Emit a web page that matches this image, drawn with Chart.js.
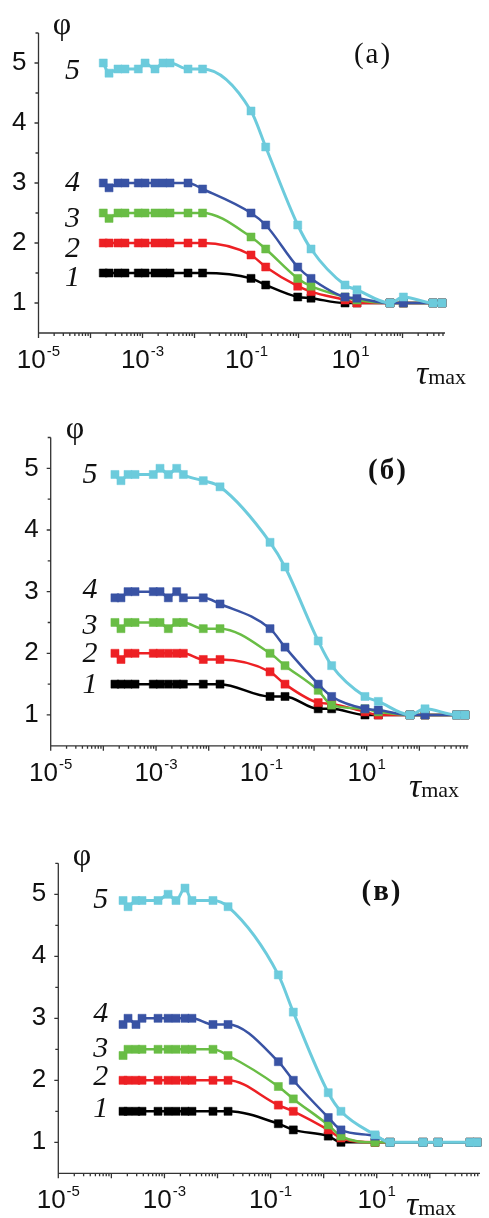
<!DOCTYPE html>
<html>
<head>
<meta charset="utf-8">
<script src="https://cdn.jsdelivr.net/npm/chart.js@4.4.1/dist/chart.umd.min.js"></script>
<style>
  html, body { margin: 0; padding: 0; background: #fff; }
  body { width: 489px; height: 1218px; position: relative; overflow: hidden; }
  canvas { position: absolute; left: 0; }
</style>
</head>
<body>
<canvas id="chartA" width="489" height="400" style="top:0px"></canvas>
<canvas id="chartB" width="489" height="405" style="top:400px"></canvas>
<canvas id="chartC" width="489" height="413" style="top:805px"></canvas>
<script>
// curves 5,4,3,2,1 (top to bottom)
const curveNames = ['5', '4', '3', '2', '1'];
const curveColors = ['#6ccbdc', '#3953a4', '#69bd45', '#ed2024', '#000000'];
const yTicks = [1, 2, 3, 4, 5];
const xLabelExps = [-5, -3, -1, 1];

// panel (а)
const tauA = [1.76e-4, 2.27e-4, 3.38e-4, 4.6e-4, 8.3e-4, 1.12e-3, 1.74e-3, 2.48e-3, 3.38e-3, 7.5e-3, 0.0143,
  0.122, 0.234, 0.966, 1.74, 7.84, 13.3, 57.5, 104, 386, 575];
const phiA5 = [5.0, 4.83, 4.9, 4.9, 4.9, 5.0, 4.9, 5.0, 5.0, 4.9, 4.9, 4.2, 3.6, 2.3, 1.9, 1.3, 1.22, 1.0, 1.1, 1.0, 1.0];
const phiA4 = [3.0, 2.92, 3.0, 3.0, 3.0, 3.0, 3.0, 3.0, 3.0, 3.0, 2.9, 2.5, 2.3, 1.6, 1.41, 1.1, 1.08, 1.0, 1.0, 1.0, 1.0];
const phiA3 = [2.5, 2.41, 2.5, 2.5, 2.5, 2.5, 2.5, 2.5, 2.5, 2.5, 2.5, 2.1, 1.9, 1.41, 1.28, 1.1, 1.05, 1.0, 1.0, 1.0, 1.0];
const phiA2 = [2.0, 2.0, 2.0, 2.0, 2.0, 2.0, 2.0, 2.0, 2.0, 2.0, 2.0, 1.8, 1.6, 1.28, 1.19, 1.05, 1.0, 1.0, 1.0, 1.0, 1.0];
const phiA1 = [1.5, 1.5, 1.5, 1.5, 1.5, 1.5, 1.5, 1.5, 1.5, 1.5, 1.5, 1.41, 1.3, 1.1, 1.08, 1.0, 1.0, 1.0, 1.0, 1.0, 1.0];

// panel (б)
const tauB = [1.66e-4, 2.16e-4, 2.94e-4, 3.99e-4, 8.87e-4, 1.19e-3, 1.71e-3, 2.47e-3, 3.3e-3, 7.88e-3, 0.0164,
  0.146, 0.281, 1.2, 2.16, 9.27, 16.6, 66.4, 128, 511, 735];
const phiB5 = [4.9, 4.8, 4.9, 4.9, 4.9, 5.0, 4.9, 5.0, 4.9, 4.8, 4.7, 3.8, 3.4, 2.2, 1.8, 1.3, 1.22, 1.0, 1.1, 1.0, 1.0];
const phiB4 = [2.9, 2.9, 3.0, 3.0, 3.0, 3.0, 2.9, 3.0, 2.9, 2.9, 2.8, 2.4, 2.1, 1.5, 1.3, 1.1, 1.08, 1.0, 1.0, 1.0, 1.0];
const phiB3 = [2.5, 2.4, 2.5, 2.5, 2.5, 2.5, 2.4, 2.5, 2.5, 2.4, 2.4, 2.0, 1.8, 1.4, 1.16, 1.1, 1.05, 1.0, 1.0, 1.0, 1.0];
const phiB2 = [2.0, 1.9, 2.0, 2.0, 2.0, 2.0, 2.0, 2.0, 2.0, 1.9, 1.9, 1.7, 1.5, 1.2, 1.18, 1.05, 1.0, 1.0, 1.0, 1.0, 1.0];
const phiB1 = [1.5, 1.5, 1.5, 1.5, 1.5, 1.5, 1.5, 1.5, 1.5, 1.5, 1.5, 1.3, 1.3, 1.1, 1.1, 1.0, 1.0, 1.0, 1.0, 1.0, 1.0];

// panel (в)
const tauC = [1.66e-4, 2.06e-4, 2.91e-4, 3.78e-4, 7.57e-4, 1.17e-3, 1.65e-3, 2.44e-3, 3.3e-3, 8.22e-3, 0.0158,
  0.14, 0.268, 1.22, 2.12, 9.29, 17.8, 74.5, 143, 573, 776];
const phiC5 = [4.9, 4.8, 4.9, 4.9, 4.9, 5.0, 4.9, 5.1, 4.9, 4.9, 4.8, 3.7, 3.1, 1.8, 1.5, 1.12, 1.0, 1.0, 1.0, 1.0, 1.0];
const phiC4 = [2.9, 3.0, 2.9, 3.0, 3.0, 3.0, 3.0, 3.0, 3.0, 2.9, 2.9, 2.3, 2.0, 1.4, 1.2, 1.1, 1.0, 1.0, 1.0, 1.0, 1.0];
const phiC3 = [2.4, 2.5, 2.5, 2.5, 2.5, 2.5, 2.5, 2.5, 2.5, 2.5, 2.4, 1.9, 1.7, 1.28, 1.1, 1.0, 1.0, 1.0, 1.0, 1.0, 1.0];
const phiC2 = [2.0, 2.0, 2.0, 2.0, 2.0, 2.0, 2.0, 2.0, 2.0, 2.0, 2.0, 1.6, 1.5, 1.2, 1.07, 1.0, 1.0, 1.0, 1.0, 1.0, 1.0];
const phiC1 = [1.5, 1.5, 1.5, 1.5, 1.5, 1.5, 1.5, 1.5, 1.5, 1.5, 1.5, 1.3, 1.2, 1.1, 1.0, 1.0, 1.0, 1.0, 1.0, 1.0, 1.0];

const sansFont = '"Liberation Sans", Arial, sans-serif';
const serifFont = '"Liberation Serif", "Times New Roman", serif';

const panels = [
  {
    id: 'chartA', tau: tauA, series: [phiA5, phiA4, phiA3, phiA2, phiA1], xMax: 656,
    area: { left: 38.5, top: 33, right: 445, bottom: 333 },
    tag: '(а)', tagBold: false, tagPos: [373, 55], phiPos: [62, 26], tauPos: [416, 384],
    numTau: 4.5e-5, numPhi: [4.87, 3.0, 2.4, 1.9, 1.42]
  },
  {
    id: 'chartB', tau: tauB, series: [phiB5, phiB4, phiB3, phiB2, phiB1], xMax: 849,
    area: { left: 50.7, top: 37.5, right: 468.3, bottom: 345.8 },
    tag: '(б)', tagBold: true, tagPos: [388, 72], phiPos: [75, 30], tauPos: [409, 397],
    numTau: 5.6e-5, numPhi: [4.89, 3.03, 2.44, 1.99, 1.49]
  },
  {
    id: 'chartC', tau: tauC, series: [phiC5, phiC4, phiC3, phiC2, phiC1], xMax: 883,
    area: { left: 58.3, top: 58.3, right: 480, bottom: 368.3 },
    tag: '(в)', tagBold: true, tagPos: [382, 88], phiPos: [82, 52], tauPos: [406, 410],
    numTau: 6.3e-5, numPhi: [4.91, 3.07, 2.5, 2.05, 1.54]
  }
];

function makeDatasets(tau, series) {
  return series.map((vals, i) => ({
    label: curveNames[i],
    data: tau.map((t, k) => ({ x: t, y: vals[k] })),
    borderColor: curveColors[i],
    backgroundColor: curveColors[i],
    pointBackgroundColor: curveColors[i],
    pointBorderColor: curveColors[i],
    pointStyle: 'rect',
    pointRadius: 5.7,
    pointBorderWidth: 0.5,
    borderWidth: i === 0 ? 3 : 2.5,
    cubicInterpolationMode: 'monotone',
    clip: false
  }));
}

function makeDecor(p) {
  return {
    id: 'decor',
    beforeDatasetsDraw(chart) {
      const { ctx, chartArea: a, scales: { x, y } } = chart;
      ctx.save();
      ctx.strokeStyle = '#333';
      ctx.lineWidth = 1.3;
      ctx.beginPath();
      ctx.moveTo(a.left, a.top);
      ctx.lineTo(a.left, a.bottom);
      ctx.lineTo(a.right, a.bottom);
      // y ticks, majors and halves
      for (let v = 1; v <= 5.5; v += 0.5) {
        const py = y.getPixelForValue(v);
        const len = Number.isInteger(v) ? 4 : 3;
        ctx.moveTo(a.left - len, py);
        ctx.lineTo(a.left, py);
      }
      // x ticks, decades and log minors
      for (let e = -5; e <= 3; e++) {
        for (let m = 1; m <= 9; m++) {
          const v = m * Math.pow(10, e);
          if (v > x.max * 1.0001) break;
          const px = x.getPixelForValue(v);
          const len = m === 1 ? 5 : 3;
          ctx.moveTo(px, a.bottom);
          ctx.lineTo(px, a.bottom + len);
        }
      }
      ctx.stroke();
      ctx.restore();
    },
    afterDraw(chart) {
      const { ctx, chartArea: a, scales: { x, y } } = chart;
      ctx.save();
      ctx.fillStyle = '#111';
      ctx.textBaseline = 'alphabetic';
      ctx.textAlign = 'left';
      // x labels 10^n
      xLabelExps.forEach(e => {
        const px = x.getPixelForValue(Math.pow(10, e));
        ctx.font = '26px ' + sansFont;
        const w1 = ctx.measureText('10').width;
        const sup = e < 0 ? '-' + Math.abs(e) : String(e);
        ctx.font = '15px ' + sansFont;
        const w2 = ctx.measureText(sup).width;
        const x0 = px - (w1 + w2 + 1) / 2;
        const base = a.bottom + 35;
        ctx.font = '26px ' + sansFont;
        ctx.fillText('10', x0, base);
        ctx.font = '15px ' + sansFont;
        ctx.fillText(sup, x0 + w1 + 1, base - 12);
      });

      // axis titles
      ctx.textAlign = 'center';
      ctx.textBaseline = 'middle';
      ctx.font = '32px ' + serifFont;
      ctx.fillText('φ', p.phiPos[0], p.phiPos[1]);

      ctx.textAlign = 'left';
      ctx.textBaseline = 'alphabetic';
      ctx.font = 'italic 34px ' + serifFont;
      ctx.fillText('τ', p.tauPos[0], p.tauPos[1]);
      const wt = ctx.measureText('τ').width;
      ctx.font = '22px ' + serifFont;
      ctx.fillText('max', p.tauPos[0] + wt, p.tauPos[1]);

      // panel tag
      ctx.textAlign = 'center';
      ctx.textBaseline = 'middle';
      ctx.font = (p.tagBold ? 'bold ' : '') + '29px ' + serifFont;
      ctx.letterSpacing = '2px';
      ctx.fillText(p.tag, p.tagPos[0], p.tagPos[1]);
      ctx.letterSpacing = '0px';

      // curve numbers
      ctx.font = 'italic 30px ' + serifFont;
      const nx = x.getPixelForValue(p.numTau);
      curveNames.forEach((n, i) => {
        ctx.fillText(n, nx, y.getPixelForValue(p.numPhi[i]));
      });
      ctx.restore();
    }
  };
}

panels.forEach(p => {
  const canvas = document.getElementById(p.id);
  const W = canvas.width, H = canvas.height;
  new Chart(canvas, {
    type: 'line',
    data: { datasets: makeDatasets(p.tau, p.series) },
    options: {
      responsive: false,
      animation: false,
      devicePixelRatio: 1,
      layout: { padding: { left: 0, top: p.area.top, right: W - p.area.right, bottom: 0 } },
      plugins: { legend: { display: false }, tooltip: { enabled: false } },
      scales: {
        x: {
          type: 'logarithmic', min: 1e-5, max: p.xMax,
          grid: { display: false, drawTicks: false }, border: { display: false },
          ticks: { display: false },
          afterFit: s => { s.height = H - p.area.bottom; }
        },
        y: {
          min: 0.5, max: 5.5,
          grid: { display: false, drawTicks: false, tickLength: 0 }, border: { display: false },
          afterBuildTicks: s => { s.ticks = yTicks.map(v => ({ value: v })); },
          ticks: { font: { family: sansFont, size: 26 }, color: '#111', padding: 12 },
          afterFit: s => { s.width = p.area.left; }
        }
      }
    },
    plugins: [makeDecor(p)]
  });
});
</script>
</body>
</html>
